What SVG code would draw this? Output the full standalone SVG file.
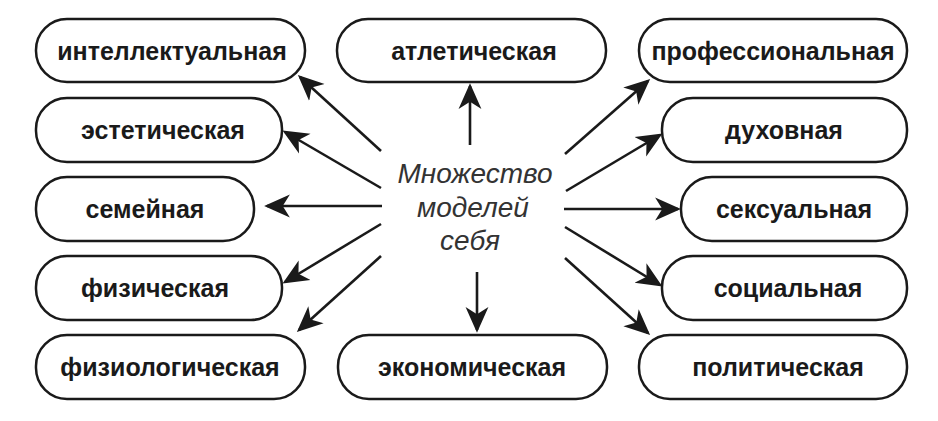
<svg xmlns="http://www.w3.org/2000/svg" width="938" height="421" viewBox="0 0 938 421">
<style>
.b{fill:#fff;stroke:#1a1a1a;stroke-width:2.5}
.t{font-family:"Liberation Sans",Arial,sans-serif;font-weight:bold;font-size:25px;fill:#1a1a1a;text-anchor:middle}
.c{font-family:"Liberation Sans",Arial,sans-serif;font-style:italic;font-size:28px;fill:#333;text-anchor:middle}
.a{stroke:#1a1a1a;stroke-width:2.6;fill:none;marker-end:url(#ah)}
</style>
<defs><marker id="ah" markerWidth="11" markerHeight="11" refX="8" refY="5" orient="auto" markerUnits="strokeWidth" viewBox="0 0 10 10"><path d="M0,1 L9,5 L0,9 L2.5,5 Z" fill="#1a1a1a"/></marker></defs>
<rect width="938" height="421" fill="#fff"/>
<g id="n1"><rect class="b" x="36" y="19" width="269" height="63" rx="31"/><text class="t" x="172" y="60">интеллектуальная</text></g>
<g id="n2"><rect class="b" x="36" y="98" width="246" height="64" rx="31"/><text class="t" x="163" y="139">эстетическая</text></g>
<g id="n3"><rect class="b" x="36" y="177" width="218" height="64" rx="31"/><text class="t" x="145" y="218">семейная</text></g>
<g id="n4"><rect class="b" x="36" y="256" width="246" height="64" rx="31"/><text class="t" x="155" y="297">физическая</text></g>
<g id="n5"><rect class="b" x="36" y="335" width="269" height="64" rx="31"/><text class="t" x="170" y="376">физиологическая</text></g>
<g id="n6"><rect class="b" x="337" y="19" width="269" height="63" rx="31"/><text class="t" x="474" y="60">атлетическая</text></g>
<g id="n7"><rect class="b" x="338" y="335" width="269" height="64" rx="31"/><text class="t" x="472" y="376">экономическая</text></g>
<g id="n8"><rect class="b" x="639" y="19" width="268" height="63" rx="31"/><text class="t" x="773" y="60">профессиональная</text></g>
<g id="n9"><rect class="b" x="662" y="98" width="245" height="64" rx="31"/><text class="t" x="784" y="139">духовная</text></g>
<g id="n10"><rect class="b" x="681" y="177" width="226" height="64" rx="31"/><text class="t" x="794" y="218">сексуальная</text></g>
<g id="n11"><rect class="b" x="662" y="256" width="245" height="64" rx="31"/><text class="t" x="788" y="297">социальная</text></g>
<g id="n12"><rect class="b" x="639" y="335" width="268" height="64" rx="31"/><text class="t" x="778" y="376">политическая</text></g>
<g id="center"><text class="c" x="475" y="183">Множество</text><text class="c" x="473" y="217">моделей</text><text class="c" x="470" y="250">себя</text></g>
<g id="connectors">
<line class="a" x1="381" y1="151" x2="300" y2="77"/>
<line class="a" x1="381" y1="188" x2="285" y2="132"/>
<line class="a" x1="382" y1="206" x2="267" y2="206"/>
<line class="a" x1="381" y1="224" x2="285" y2="282"/>
<line class="a" x1="381" y1="256" x2="299" y2="330"/>
<line class="a" x1="470" y1="145" x2="470" y2="86"/>
<line class="a" x1="477" y1="272" x2="477" y2="330"/>
<line class="a" x1="565" y1="154" x2="648" y2="81"/>
<line class="a" x1="566" y1="191" x2="660" y2="135"/>
<line class="a" x1="564" y1="209" x2="678" y2="209"/>
<line class="a" x1="565" y1="227" x2="660" y2="285"/>
<line class="a" x1="565" y1="258" x2="648" y2="333"/>
</g>
</svg>
